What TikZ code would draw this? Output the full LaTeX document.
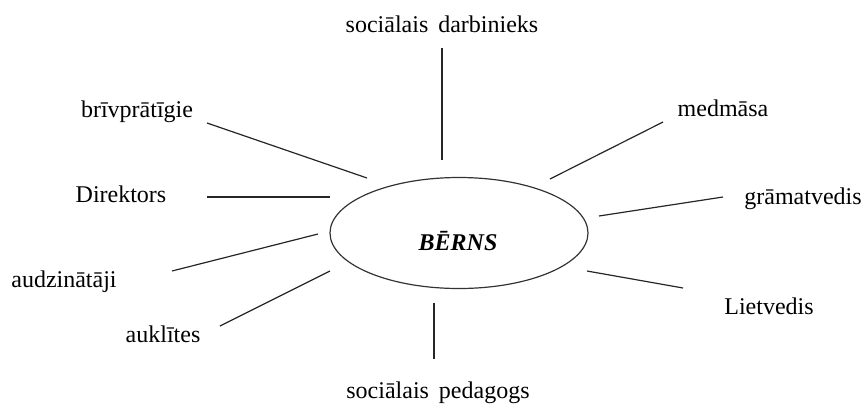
\documentclass[tikz,border=0pt,12pt]{standalone}
\usepackage{fontspec}
\setmainfont{Liberation Serif}
\usetikzlibrary{shapes}

\begin{document}
\begin{tikzpicture}[x=0.5pt, y=-0.5pt,
    child/.style={ellipse, draw=black!80, line width=0.6pt, minimum width=129pt, minimum height=55.5pt, inner sep=0pt},
    role/.style={anchor=base, inner sep=0pt},
    link/.style={line width=0.6pt, draw=black!85}]

    \useasboundingbox (0,0) rectangle (864,403);

    % Nodes
    \node[child] (child) at (459,233) {};
    \node[role, font=\bfseries\itshape] (childname) at (458,250) {BĒRNS};
    \node[role] (socworker) at (442,32) {sociālais\, darbinieks};
    \node[role] (volunteers) at (137,117) {brīvprātīgie};
    \node[role] (director) at (121,202) {Direktors};
    \node[role] (tutors) at (64,287) {audzinātāji};
    \node[role] (nannies) at (163,342) {auklītes};
    \node[role] (socpedagog) at (438,398) {sociālais\, pedagogs};
    \node[role] (nurse) at (723,116) {medmāsa};
    \node[role] (accountant) at (803,204) {grāmatvedis};
    \node[role] (clerk) at (769,314) {Lietvedis};

    % Line ends
    \coordinate (socworker-a) at (442,48);   \coordinate (socworker-b) at (442,160);
    \coordinate (volunteers-a) at (207,123); \coordinate (volunteers-b) at (367,178);
    \coordinate (director-a) at (207,197);   \coordinate (director-b) at (330,197);
    \coordinate (tutors-a) at (172,271);     \coordinate (tutors-b) at (318,234);
    \coordinate (nannies-a) at (220,326);    \coordinate (nannies-b) at (330,271);
    \coordinate (socpedagog-a) at (434,359); \coordinate (socpedagog-b) at (434,303);
    \coordinate (nurse-a) at (663,122);      \coordinate (nurse-b) at (550,179);
    \coordinate (accountant-a) at (723,197); \coordinate (accountant-b) at (599,216);
    \coordinate (clerk-a) at (683,288);      \coordinate (clerk-b) at (587,271);

    % Lines
    \foreach \r in {socworker,volunteers,director,tutors,nannies,socpedagog,nurse,accountant,clerk}
        \draw[link] (\r-a) -- (\r-b);

\end{tikzpicture}
\end{document}
